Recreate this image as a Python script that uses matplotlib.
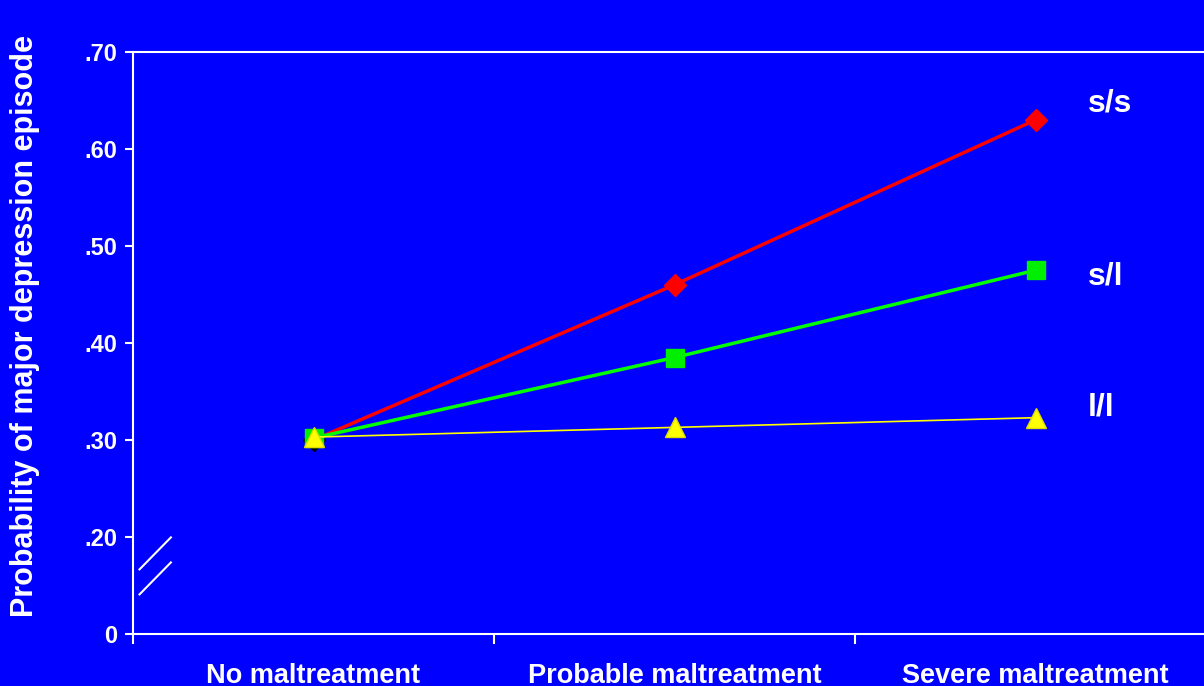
import matplotlib
matplotlib.use('Agg')
import matplotlib.pyplot as plt
from matplotlib.lines import Line2D

plt.rcParams['font.family'] = ['Liberation Sans', 'DejaVu Sans']
plt.rcParams['font.weight'] = 'bold'

# probability of a major depression episode by maltreatment level
categories = ['No maltreatment', 'Probable maltreatment', 'Severe maltreatment']
ss = [0.30, 0.46, 0.63]
sl = [0.302, 0.385, 0.475]
ll = [0.303, 0.313, 0.323]
genotypes = ['s/s', 's/l', 'l/l']

yticks = [0.10, 0.20, 0.30, 0.40, 0.50, 0.60, 0.70]
ytick_labels = ['0', '.20', '.30', '.40', '.50', '.60', '.70']

blue = '#0000FF'
fig = plt.figure(figsize=(12.04, 6.86), dpi=100, facecolor=blue)
ax = fig.add_axes([133 / 1204, 1 - 634 / 686, 1083 / 1204, 582 / 686])
ax.set_facecolor(blue)

x = list(range(len(categories)))

# s/s: first marker is black, the rest red
ax.plot(x, ss, color='#FF0000', lw=2.5, zorder=3)
ax.plot(x[1:], ss[1:], ls='none', marker='D', ms=11, color='#FF0000', zorder=3)
ax.plot(x[:1], ss[:1], ls='none', marker='D', ms=11, color='black', zorder=2)
ax.plot(x, sl, color='#00FF00', lw=2.5, marker='s', ms=13,
        mfc='#00EE00', mec='#00EE00', zorder=4)
ax.plot(x, ll, color='#FFFF00', lw=1.2, marker='^', ms=15,
        mfc='#FFFF00', mec='#DDDD00', zorder=5)

# series labels on the right
for name, vals, dy in zip(genotypes, [ss, sl, ll], [0.017, -0.006, 0.011]):
    ax.text(2.145, vals[-1] + dy, name, color='white', fontsize=23,
            fontweight='bold', va='center', ha='left')

ax.set_xlim(-0.5, 2.5)
ax.set_ylim(0.10, 0.70)
ax.set_yticks(yticks)
ax.set_yticklabels(ytick_labels)
ax.set_xticks([-0.5, 0.5, 1.5, 2.5])
ax.set_xticklabels([])
ax.set_xticks(x, minor=True)
ax.set_xticklabels(categories, minor=True)
ax.tick_params(axis='x', which='minor', length=0, pad=21, labelsize=19.5,
               colors='white')
ax.tick_params(axis='x', which='major', length=7, width=1.5, colors='white')
ax.tick_params(axis='y', length=6, width=1.5, colors='white', labelsize=17,
               pad=5)
for lbl in ax.get_xticklabels(minor=True) + ax.get_yticklabels():
    lbl.set_fontweight('bold')

for side in ['left', 'bottom', 'top', 'right']:
    ax.spines[side].set_color('white')
    ax.spines[side].set_linewidth(1.5)

ax.set_ylabel('Probability of major depression episode', color='white',
              fontsize=22, fontweight='bold')
ax.yaxis.set_label_coords(-0.086, 0.53)

# axis break marks
for y0 in [0.111, 0.068]:
    ax.add_line(Line2D([0.006, 0.035], [y0, y0 + 0.055], transform=ax.transAxes,
                       color='white', lw=1.5, clip_on=False))

fig.savefig('out.png', dpi=100, facecolor=blue)
